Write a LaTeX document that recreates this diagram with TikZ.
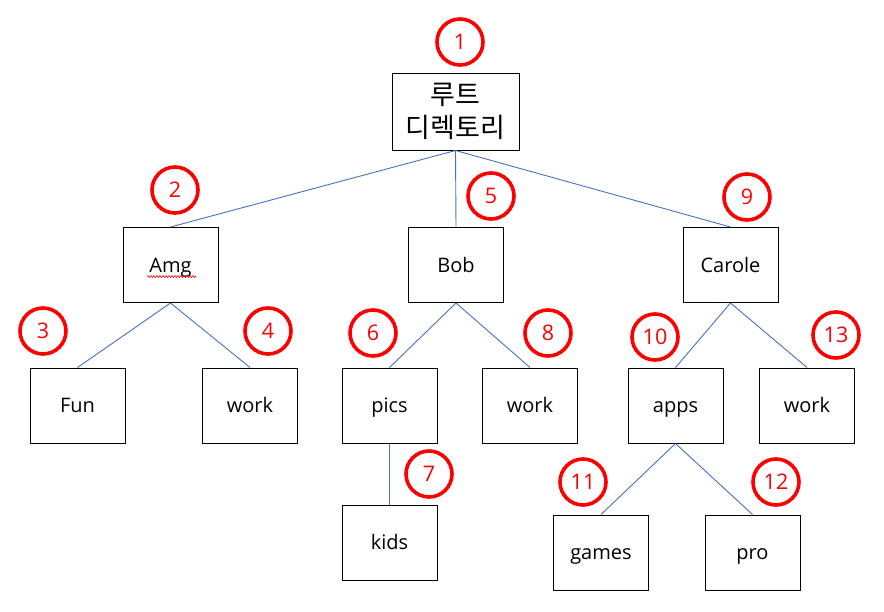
\documentclass[tikz,border=0pt]{standalone}
\usepackage{fontspec}
\setmainfont{Open Sans}
\newfontfamily\krfont{Noto Sans CJK KR}
\usetikzlibrary{decorations.pathmorphing}
\definecolor{linkblue}{HTML}{4472C4}
\definecolor{markred}{HTML}{FF0000}
\begin{document}
\begin{tikzpicture}[x=1pt,y=-1pt,
  box/.style={draw=black, line width=1pt, minimum width=95pt, minimum height=75pt, inner sep=0pt, text height=14pt, text depth=0pt, font=\fontsize{20}{24}\selectfont},
  rootbox/.style={draw=black, line width=1pt, minimum width=127pt, minimum height=77pt, inner sep=0pt, align=center, font=\krfont\fontsize{27}{33}\selectfont},
  link/.style={draw=linkblue, line width=0.9pt},
  badge/.style={circle, draw=markred, line width=3.6pt, minimum size=46pt, inner sep=0pt, text=markred, font=\fontsize{21.5}{24}\selectfont},
  squiggle/.style={draw=markred, line width=0.6pt, decorate, decoration={snake, amplitude=1pt, segment length=3pt}}]
\useasboundingbox (0,0) rectangle (884,611);
% boxes
\node[rootbox] (root) at (455.5,111.5) {루트\\디렉토리};
\node[box] (amg) at (170.5,265) {Amg};
\node[box] (bob) at (456,265) {Bob};
\node[box] (carole) at (730.5,265) {Carole};
\node[box] (fun) at (77.5,405.5) {Fun};
\node[box] (work1) at (250,405.5) {work};
\node[box] (pics) at (389.5,405.5) {pics};
\node[box] (work2) at (530,405.5) {work};
\node[box] (apps) at (675.5,405.5) {apps};
\node[box] (work3) at (807,405.5) {work};
\node[box] (kids) at (389.5,542.5) {kids};
\node[box] (games) at (601,552.5) {games};
\node[box] (pro) at (752.5,552.5) {pro};
% spell-check underline
\coordinate (sqa) at (147,276.5);
\coordinate (sqb) at (196,276.5);
\draw[squiggle] (sqa) -- (sqb);
% connectors
\draw[link] (root.south) -- (amg.north);
\draw[link] (root.south) -- (bob.north);
\draw[link] (root.south) -- (carole.north);
\draw[link] (amg.south) -- (fun.north);
\draw[link] (amg.south) -- (work1.north);
\draw[link] (bob.south) -- (pics.north);
\draw[link] (bob.south) -- (work2.north);
\draw[link] (carole.south) -- (apps.north);
\draw[link] (carole.south) -- (work3.north);
\draw[link] (pics.south) -- (kids.north);
\draw[link] (apps.south) -- (games.north);
\draw[link] (apps.south) -- (pro.north);
% badges
\node[badge] (b1) at (460,42) {1};
\node[badge] (b2) at (175,190) {2};
\node[badge] (b3) at (43,331) {3};
\node[badge] (b4) at (268,331) {4};
\node[badge] (b5) at (491,196) {5};
\node[badge] (b6) at (373,333) {6};
\node[badge] (b7) at (429,474) {7};
\node[badge] (b8) at (548,333) {8};
\node[badge] (b9) at (747,197) {9};
\node[badge] (b10) at (655,337) {10};
\node[badge] (b11) at (583,482) {11};
\node[badge] (b12) at (776,482) {12};
\node[badge] (b13) at (836,335) {13};
\end{tikzpicture}
\end{document}
